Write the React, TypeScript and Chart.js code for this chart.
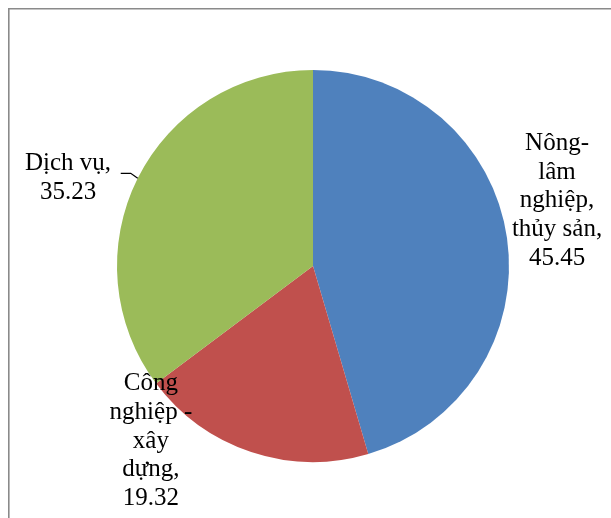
import React, { useEffect, useRef } from "react";
import { Chart, registerables } from "chart.js";

Chart.register(...registerables);

const categories = ["Nông-lâm nghiệp, thủy sản", "Công nghiệp - xây dựng", "Dịch vụ"];
const values = [45.45, 19.32, 35.23];
const labelLines = [
  ["Nông-", "lâm", "nghiệp,", "thủy sản,", "45.45"],
  ["Công", "nghiệp -", "xây", "dựng,", "19.32"],
  ["Dịch vụ,", "35.23"],
];
const colors = ["#4F81BD", "#C0504D", "#9BBB59"];

// label placement relative to pie centre, in units of radius
const labelOffsets = [
  { dx: 1.245, dy: -0.332 },
  { dx: -0.827, dy: 0.893 },
  { dx: -1.25, dy: -0.449 },
];

const FAMILY = "Liberation Serif";

const labelPlugin = {
  id: "pieLabels",
  afterDraw(chart: any) {
    const ctx = chart.ctx as CanvasRenderingContext2D;
    const meta = chart.getDatasetMeta(0);
    ctx.save();
    ctx.strokeStyle = "#8a8a8a";
    ctx.lineWidth = 1.6;
    ctx.beginPath();
    ctx.moveTo(0.8, chart.height);
    ctx.lineTo(0.8, 0.8);
    ctx.lineTo(chart.width, 0.8);
    ctx.stroke();
    ctx.fillStyle = "#000";
    ctx.textAlign = "center";
    ctx.textBaseline = "middle";
    const lh = 28.8;
    meta.data.forEach((arc: any, i: number) => {
      const p = arc.getProps(["x", "y", "outerRadius", "startAngle", "endAngle"], true);
      const r = p.outerRadius;
      const cx = p.x + labelOffsets[i].dx * r;
      const cy = p.y + labelOffsets[i].dy * r;
      const lines = labelLines[i];
      const top = cy - ((lines.length - 1) * lh) / 2;
      ctx.font = "25px " + FAMILY;
      lines.forEach((t, k) => ctx.fillText(t, cx, top + k * lh));
      if (i === 2) {
        const mid = (p.startAngle + p.endAngle) / 2;
        const ex = p.x + Math.cos(mid) * r;
        const ey = p.y + Math.sin(mid) * r;
        ctx.beginPath();
        ctx.strokeStyle = "#000";
        ctx.lineWidth = 1.2;
        ctx.moveTo(ex, ey);
        ctx.lineTo(ex - 7, ey - 5);
        ctx.lineTo(ex - 17, ey - 5);
        ctx.stroke();
      }
    });
    ctx.restore();
  },
};

export default function App() {
  const ref = useRef<HTMLCanvasElement>(null);
  useEffect(() => {
    Chart.defaults.font.family = FAMILY;
    const chart = new Chart(ref.current!, {
      type: "pie",
      data: {
        labels: categories,
        datasets: [
          {
            data: values,
            backgroundColor: colors,
            borderWidth: 0,
          },
        ],
      },
      options: {
        responsive: false,
        animation: false,
        font: { family: FAMILY, size: 25 },
        layout: { padding: { left: 109, top: 62, right: 102, bottom: 56 } },
        plugins: {
          legend: { display: false },
          tooltip: { enabled: false },
        },
      } as any,
      plugins: [labelPlugin],
    });
    const t = setTimeout(() => chart.draw(), 150);
    return () => {
      clearTimeout(t);
      chart.destroy();
    };
  }, []);
  return (
    <div style={{ position: "fixed", left: 8, top: 8, width: 603, height: 510, overflow: "hidden" }}>
      <div style={{ position: "absolute", left: 0, top: 0, fontFamily: FAMILY, fontSize: 25, color: "transparent" }}>
        Dịch vụ
      </div>
      <canvas ref={ref} width={603} height={510} style={{ display: "block", width: 603, height: 510, position: "relative" }} />
    </div>
  );
}
